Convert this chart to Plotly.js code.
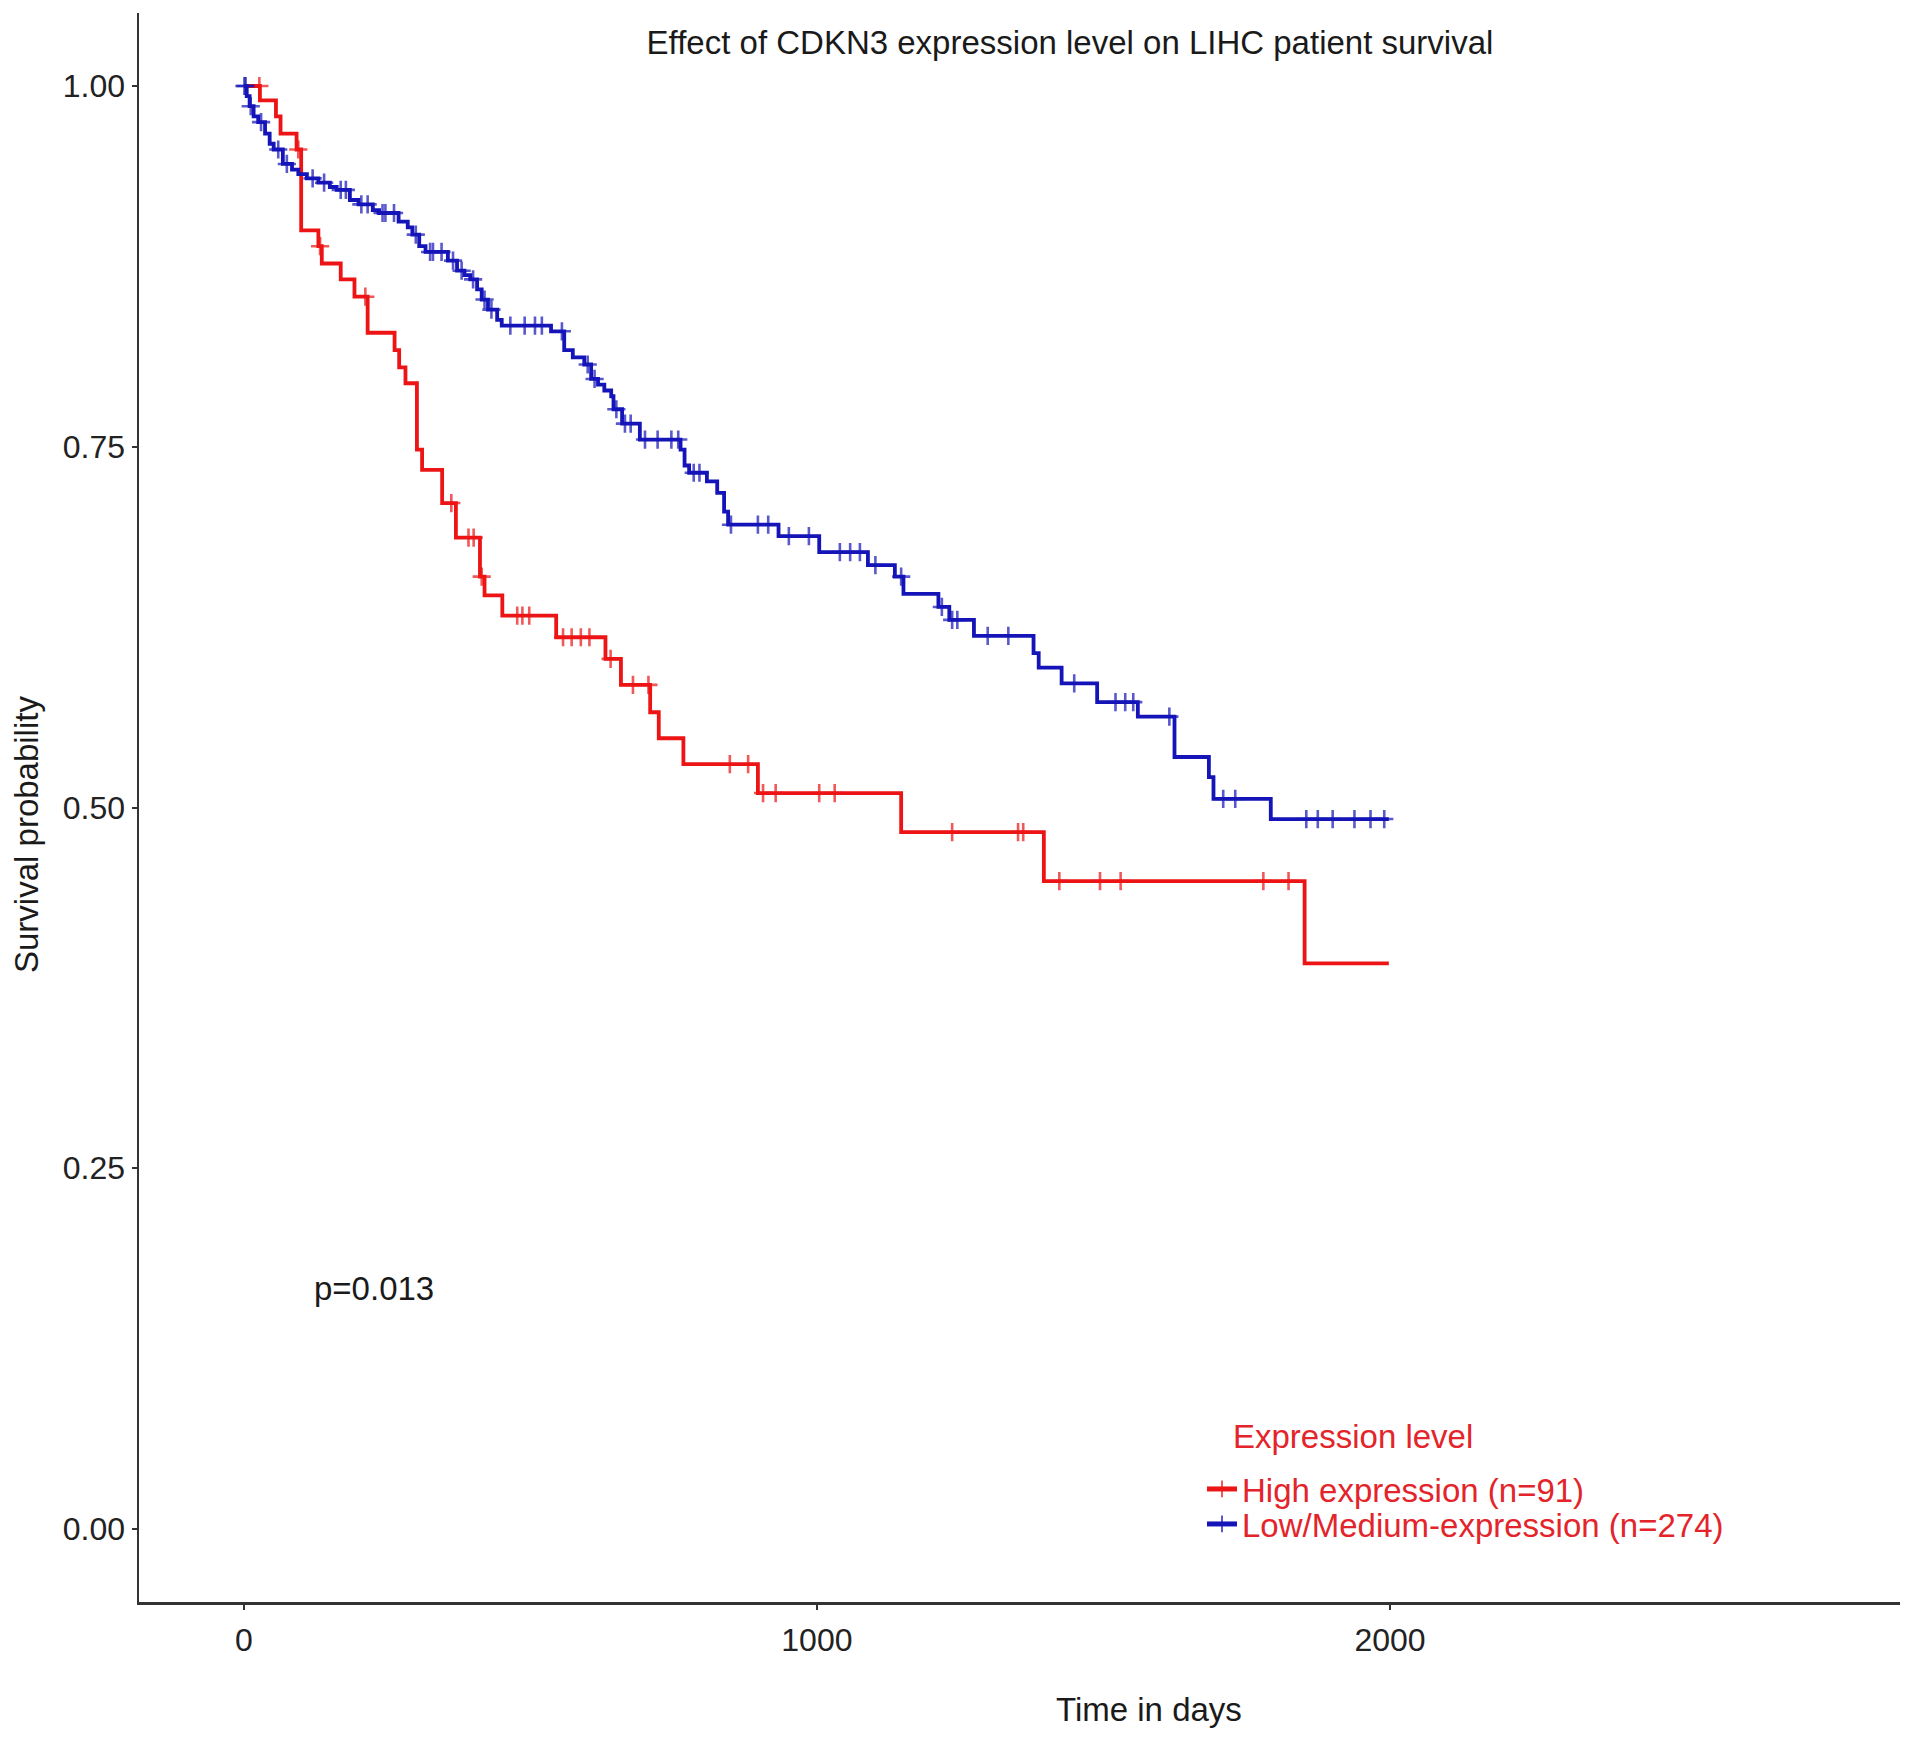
<!DOCTYPE html>
<html>
<head>
<meta charset="utf-8">
<script src="https://cdn.plot.ly/plotly-3.0.1.min.js"></script>
<style>
html,body{margin:0;padding:0;background:#ffffff;}
#chart{width:1913px;height:1742px;}
</style>
</head>
<body>
<div id="chart"></div>
<script>
// ---- data ----
const groupNames = ["High expression (n=91)", "Low/Medium-expression (n=274)"];
const legendTitle = "Expression level";
const chartTitle = "Effect of CDKN3 expression level on LIHC patient survival";
const xAxisTitle = "Time in days";
const yAxisTitle = "Survival probability";
const pValueText = "p=0.013";

// High expression: step times (days) and survival after each step
const highTimes = [0, 28, 56, 64, 92, 100, 130, 136, 169, 193, 216, 263, 271, 282, 302, 311, 346, 370, 412, 420, 451, 545, 631, 658, 709, 724, 767, 897, 1147, 1396, 1851];
const highSurv  = [1.0, 0.990, 0.979, 0.967, 0.956, 0.900, 0.889, 0.877, 0.866, 0.854, 0.829, 0.817, 0.805, 0.794, 0.748, 0.734, 0.711, 0.687, 0.660, 0.647, 0.633, 0.618, 0.603, 0.585, 0.566, 0.548, 0.530, 0.510, 0.483, 0.449, 0.392];
const highCensor = [27, 95, 133, 212, 362, 392, 401, 415, 477, 486, 498, 557, 572, 588, 603, 640, 679, 706, 848, 880, 906, 928, 1004, 1031, 1236, 1351, 1360, 1423, 1494, 1530, 1779, 1823];
const highEnd = 1998;

// Low/Medium expression
const lowTimes = [0, 5, 10, 17, 25, 37, 45, 52, 68, 84, 95, 110, 130, 150, 162, 185, 200, 225, 236, 270, 286, 294, 306, 317, 356, 372, 385, 395, 407, 415, 426, 442, 450, 536, 559, 574, 594, 606, 618, 629, 641, 645, 660, 691, 762, 769, 777, 808, 826, 838, 845, 933, 1004, 1089, 1136, 1151, 1212, 1231, 1274, 1378, 1387, 1427, 1489, 1560, 1624, 1684, 1692, 1792];
const lowSurv  = [1.0, 0.993, 0.986, 0.979, 0.975, 0.967, 0.960, 0.956, 0.946, 0.942, 0.939, 0.936, 0.933, 0.930, 0.928, 0.921, 0.918, 0.914, 0.912, 0.906, 0.902, 0.897, 0.889, 0.885, 0.879, 0.872, 0.869, 0.866, 0.859, 0.852, 0.845, 0.838, 0.834, 0.830, 0.817, 0.812, 0.807, 0.797, 0.793, 0.789, 0.785, 0.776, 0.766, 0.755, 0.748, 0.737, 0.732, 0.726, 0.718, 0.705, 0.696, 0.688, 0.677, 0.668, 0.660, 0.648, 0.639, 0.630, 0.619, 0.607, 0.597, 0.586, 0.573, 0.563, 0.535, 0.521, 0.506, 0.492];
const lowCensor = [1, 3, 12, 30, 60, 75, 120, 140, 169, 178, 205, 216, 242, 247, 262, 300, 325, 330, 345, 365, 380, 400, 420, 432, 465, 490, 508, 520, 555, 600, 612, 650, 665, 675, 700, 722, 746, 758, 785, 795, 850, 897, 915, 951, 986, 1040, 1058, 1075, 1102, 1147, 1218, 1236, 1245, 1298, 1334, 1449, 1521, 1538, 1552, 1615, 1709, 1730, 1854, 1874, 1900, 1938, 1966, 1990];
const lowEnd = 1998;

const xTickVals = [0, 1000, 2000];
const yTickVals = [0, 0.25, 0.5, 0.75, 1.0];

// ---- styling ----
const FONT = "Liberation Sans, Arial, Helvetica, sans-serif";
const RED = "#ec1414";
const BLUE = "#1414b8";
const LEGEND_RED = "#e3242b";
const CENSOR_SIZE = 13;

function buildCurve(times, surv, censor, endT) {
  const pts = times.map((t, i) => ({ t: t, s: surv[i], c: 0 }));
  censor.forEach(tc => {
    let s = surv[0];
    for (let i = 0; i < times.length; i++) { if (times[i] <= tc) s = surv[i]; }
    pts.push({ t: tc, s: s, c: 1 });
  });
  pts.sort((a, b) => (a.t - b.t) || (a.c - b.c));
  pts.push({ t: endT, s: surv[surv.length - 1], c: 0 });
  return {
    x: pts.map(p => p.t),
    y: pts.map(p => p.s),
    size: pts.map(p => p.c ? CENSOR_SIZE : 0)
  };
}

function curveTrace(curve, name, color, legendId) {
  return {
    type: "scatter",
    mode: "lines+markers",
    name: name,
    legend: legendId,
    x: curve.x,
    y: curve.y,
    line: { color: color, width: 3.8, shape: "hv" },
    marker: { symbol: "cross-thin", size: curve.size, color: color, line: { color: color, width: 2.6 } },
    hoverinfo: "skip"
  };
}

const high = buildCurve(highTimes, highSurv, highCensor, highEnd);
const low = buildCurve(lowTimes, lowSurv, lowCensor, lowEnd);

const data = [
  curveTrace(high, groupNames[0], RED, "legend"),
  curveTrace(low, groupNames[1], BLUE, "legend2")
];

const W = 1913, H = 1742;
const mL = 139, mR = 13, mT = 13, mB = 140;
const plotW = W - mL - mR, plotH = H - mT - mB;
const px2x = px => (px - mL) / plotW;
const py2y = py => (H - mB - py) / plotH;

function legendBox(centerY) {
  return {
    x: px2x(1202), xanchor: "left",
    y: py2y(centerY), yanchor: "middle",
    bgcolor: "rgba(0,0,0,0)",
    font: { family: FONT, size: 33, color: LEGEND_RED },
    itemsizing: "constant"
  };
}

const layout = {
  width: W, height: H,
  margin: { l: mL, r: mR, t: mT, b: mB, pad: 0 },
  paper_bgcolor: "#ffffff",
  plot_bgcolor: "#ffffff",
  font: { family: FONT, size: 33, color: "#1a1a1a" },
  showlegend: true,
  hovermode: false,
  title: {
    text: chartTitle,
    font: { family: FONT, size: 33, color: "#1a1a1a" },
    xref: "paper", x: px2x(1070), xanchor: "center",
    yref: "container", y: 1 - 42 / H, yanchor: "middle"
  },
  xaxis: {
    range: [-183, 2890],
    tickmode: "array", tickvals: xTickVals, ticktext: xTickVals.map(String),
    ticks: "outside", ticklen: 5, tickwidth: 2, tickcolor: "#333333",
    tickfont: { family: FONT, size: 32, color: "#222222" },
    ticklabelstandoff: 3,
    showline: true, linecolor: "#333333", linewidth: 2.5,
    showgrid: false, zeroline: false, mirror: false
  },
  yaxis: {
    range: [-0.0506, 1.0506],
    tickmode: "array", tickvals: yTickVals, ticktext: yTickVals.map(v => v.toFixed(2)),
    ticks: "outside", ticklen: 5, tickwidth: 2, tickcolor: "#333333",
    tickfont: { family: FONT, size: 32, color: "#222222" },
    showline: true, linecolor: "#333333", linewidth: 2.5,
    showgrid: false, zeroline: false, mirror: false
  },
  legend: legendBox(1489),
  legend2: legendBox(1524),
  annotations: [
    { text: legendTitle, xref: "paper", yref: "paper", x: px2x(1231), y: py2y(1436),
      xanchor: "left", yanchor: "middle", showarrow: false, font: { family: FONT, size: 33, color: LEGEND_RED } },
    { text: xAxisTitle, xref: "paper", yref: "paper", x: px2x(1149), y: py2y(1709),
      xanchor: "center", yanchor: "middle", showarrow: false, font: { family: FONT, size: 33, color: "#1a1a1a" } },
    { text: yAxisTitle, xref: "paper", yref: "paper", x: px2x(27), y: py2y(835),
      textangle: -90, xanchor: "center", yanchor: "middle", showarrow: false, font: { family: FONT, size: 33, color: "#1a1a1a" } },
    { text: pValueText, xref: "x", yref: "y", x: 119, y: 0.167,
      xanchor: "left", yanchor: "middle", showarrow: false, font: { family: FONT, size: 33, color: "#1a1a1a" } }
  ]
};

Plotly.newPlot("chart", data, layout, { displayModeBar: false, staticPlot: true });
</script>
</body>
</html>
